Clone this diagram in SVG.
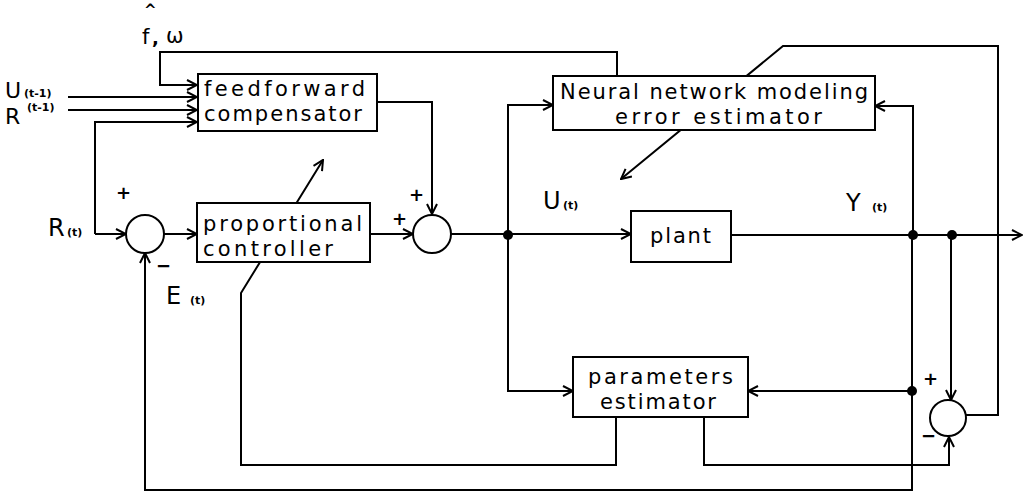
<svg xmlns="http://www.w3.org/2000/svg" width="1027" height="495" viewBox="0 0 1027 495">
<style>
.box{fill:#fff;stroke:#000;stroke-width:2}
.sum{fill:#fff;stroke:#000;stroke-width:2}
.ln{fill:none;stroke:#000;stroke-width:2;stroke-linejoin:miter}
.t{font-family:"DejaVu Sans","Liberation Sans",sans-serif;font-size:21px;fill:#000}
.big{font-family:"DejaVu Sans","Liberation Sans",sans-serif;font-size:24px;fill:#000}
.sub{font-family:"DejaVu Sans","Liberation Sans",sans-serif;font-size:11px;fill:#000;font-weight:bold}
.sg{font-family:"DejaVu Sans","Liberation Sans",sans-serif;font-size:18px;fill:#000;font-weight:bold}
.dot{fill:#000}
</style>
<defs>
<marker id="arr" markerUnits="userSpaceOnUse" markerWidth="12" markerHeight="12" viewBox="0 0 12 12" refX="11" refY="6" orient="auto">
<path d="M1,1 L11,6 L1,11" fill="none" stroke="#000" stroke-width="2"/>
</marker>
</defs>
<rect width="1027" height="495" fill="#fff"/>
<g id="connectors">
<path class="ln" d="M68,97 H197" marker-end="url(#arr)"/>
<path class="ln" d="M68,110 H197" marker-end="url(#arr)"/>
<path class="ln" d="M95,234 V122 H197" marker-end="url(#arr)"/>
<path class="ln" d="M95,234 H126" marker-end="url(#arr)"/>
<path class="ln" d="M617,76 V52 H160 V85 H197" marker-end="url(#arr)"/>
<path class="ln" d="M164,234 H197" marker-end="url(#arr)"/>
<path class="ln" d="M370,234 H413" marker-end="url(#arr)"/>
<path class="ln" d="M377,102 H432 V214" marker-end="url(#arr)"/>
<path class="ln" d="M451,234 H631" marker-end="url(#arr)"/>
<path class="ln" d="M508,235 V105 H553" marker-end="url(#arr)"/>
<path class="ln" d="M508,235 V391 H573" marker-end="url(#arr)"/>
<path class="ln" d="M731,235 H1022" marker-end="url(#arr)"/>
<path class="ln" d="M913,235 V106 H875" marker-end="url(#arr)"/>
<path class="ln" d="M912,235 V490 H145 V253" marker-end="url(#arr)"/>
<path class="ln" d="M912,391 H748" marker-end="url(#arr)"/>
<path class="ln" d="M951,235 V400" marker-end="url(#arr)"/>
<path class="ln" d="M966,415 H998 V46 H783 L621,179" marker-end="url(#arr)"/>
<path class="ln" d="M616,417 V465 H241 V293 L323,160" marker-end="url(#arr)"/>
<path class="ln" d="M704,417 V465 H949 V437" marker-end="url(#arr)"/>
<circle class="dot" cx="508" cy="235" r="5"/>
<circle class="dot" cx="913" cy="235" r="5"/>
<circle class="dot" cx="952" cy="235" r="5"/>
<circle class="dot" cx="912" cy="391" r="5"/>
</g>
<g id="feedforward">
<rect class="box" x="198" y="74" width="179" height="57"/>
<text class="t" x="204" y="96" textLength="161" lengthAdjust="spacing">feedforward</text>
<text class="t" x="204" y="121" textLength="158" lengthAdjust="spacing">compensator</text>
</g>
<g id="nn">
<rect class="box" x="553" y="76" width="322" height="54"/>
<text class="t" x="560" y="99" textLength="308" lengthAdjust="spacing">Neural network modeling</text>
<text class="t" x="615" y="124" textLength="207" lengthAdjust="spacing">error estimator</text>
</g>
<g id="proportional">
<rect class="box" x="197" y="203" width="173" height="59"/>
<text class="t" x="203" y="231" textLength="159" lengthAdjust="spacing">proportional</text>
<text class="t" x="203" y="256" textLength="130" lengthAdjust="spacing">controller</text>
</g>
<g id="plant">
<rect class="box" x="631" y="211" width="100" height="51"/>
<text class="t" x="650" y="243" textLength="61" lengthAdjust="spacing">plant</text>
</g>
<g id="params">
<rect class="box" x="573" y="357" width="175" height="60"/>
<text class="t" x="588" y="384" textLength="145" lengthAdjust="spacing">parameters</text>
<text class="t" x="600" y="409" textLength="116" lengthAdjust="spacing">estimator</text>
</g>
<g id="sum1">
<circle class="sum" cx="145" cy="234" r="19"/>
</g>
<g id="sum2">
<circle class="sum" cx="432" cy="234" r="19"/>
</g>
<g id="sum3">
<circle class="sum" cx="948" cy="418" r="18"/>
</g>
<g id="labels">
<text class="big" x="5" y="98" style="font-size:22px">U</text>
<text class="sub" x="24" y="97">(t-1)</text>
<text class="big" x="5" y="124" style="font-size:22px">R</text>
<text class="sub" x="27" y="111">(t-1)</text>
<text class="sub" x="144" y="15" style="font-size:15px">^</text>
<text class="t" x="142" y="44">f</text>
<text class="sg" x="152" y="44">,</text>
<text class="t" x="166" y="43">ω</text>
<text class="big" x="48" y="236">R</text>
<text class="sub" x="67" y="236">(t)</text>
<text class="sg" x="116" y="199">+</text>
<text class="sg" x="156" y="272">−</text>
<text class="big" x="166" y="304">E</text>
<text class="sub" x="190" y="304">(t)</text>
<text class="sg" x="392" y="225">+</text>
<text class="sg" x="409" y="201">+</text>
<text class="big" x="543" y="209">U</text>
<text class="sub" x="563" y="209">(t)</text>
<text class="big" x="846" y="211">Y</text>
<text class="sub" x="872" y="211">(t)</text>
<text class="sg" x="923" y="385">+</text>
<text class="sg" x="921" y="442">−</text>
</g>
</svg>
